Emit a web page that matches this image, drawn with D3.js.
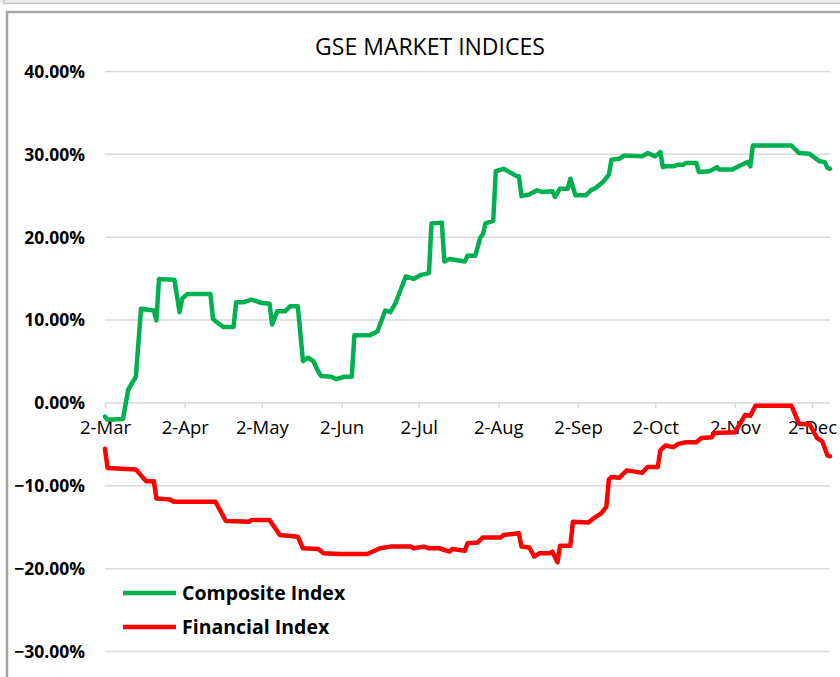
<html>
<head>
    <title>GSE Market Indices</title>
    <meta charset="UTF-8" />
    <script src="https://d3js.org/d3.v7.min.js"></script>
    <style>
        body { margin: 0; background: white; }
        .gridlines line { stroke: #d9d9d9; stroke-width: 1.5; }
        .gridlines .domain { stroke: none; }
        .ylab text { font-family: "Open Sans", sans-serif; font-weight: bold; font-size: 17.5px; fill: #000; }
        .xlab text { font-family: "Open Sans", sans-serif; font-size: 18.5px; fill: #000; }
    </style>
</head>
<body>
<svg height="677" width="840" id="svg1"></svg>
<script>

// ---- data (percent change since 2-Mar) ----
const yTicks = [0.40, 0.30, 0.20, 0.10, 0.00, -0.10, -0.20, -0.30];
const xTickDates = ["2021-03-02","2021-04-02","2021-05-02","2021-06-02","2021-07-02",
                    "2021-08-02","2021-09-02","2021-10-02","2021-11-02","2021-12-02"];
const seriesNames = ["Composite Index", "Financial Index"];

const compositeDates = ["2021-03-02","2021-03-03","2021-03-09","2021-03-11","2021-03-14","2021-03-16","2021-03-21","2021-03-22",
  "2021-03-23","2021-03-29","2021-03-31","2021-04-01","2021-04-03","2021-04-12","2021-04-13","2021-04-14","2021-04-17",
  "2021-04-21","2021-04-22","2021-04-25","2021-04-28","2021-05-02","2021-05-05","2021-05-06","2021-05-08","2021-05-11",
  "2021-05-13","2021-05-16","2021-05-18","2021-05-20","2021-05-22","2021-05-24","2021-05-25","2021-05-29","2021-05-31",
  "2021-06-03","2021-06-06","2021-06-07","2021-06-13","2021-06-16","2021-06-19","2021-06-21","2021-06-23","2021-06-27",
  "2021-06-30","2021-07-03","2021-07-06","2021-07-07","2021-07-11","2021-07-12","2021-07-14","2021-07-20","2021-07-21",
  "2021-07-24","2021-07-26","2021-07-27","2021-07-28","2021-07-31","2021-08-01","2021-08-04","2021-08-07","2021-08-09",
  "2021-08-10","2021-08-11","2021-08-14","2021-08-17","2021-08-19","2021-08-23","2021-08-24","2021-08-26","2021-08-29",
  "2021-08-30","2021-09-01","2021-09-05","2021-09-07","2021-09-09","2021-09-12","2021-09-14","2021-09-15","2021-09-18",
  "2021-09-20","2021-09-27","2021-09-29","2021-10-02","2021-10-04","2021-10-05","2021-10-06","2021-10-09","2021-10-11",
  "2021-10-13","2021-10-14","2021-10-18","2021-10-19","2021-10-23","2021-10-25","2021-10-26","2021-10-27","2021-11-01",
  "2021-11-04","2021-11-07","2021-11-08","2021-11-09","2021-11-24","2021-11-27","2021-12-01","2021-12-05","2021-12-07",
  "2021-12-08","2021-12-09"];
const compositeValues = [-1.7,-2.1,-2.0,1.5,3.1,11.3,11.1,9.9,
  14.9,14.8,10.9,12.5,13.1,13.1,10.1,9.8,9.1,
  9.1,12.1,12.1,12.4,12.0,11.9,9.4,11.0,11.0,
  11.6,11.6,5.0,5.4,5.0,3.7,3.2,3.1,2.8,
  3.1,3.1,8.1,8.1,8.6,11.1,10.9,12.0,15.2,
  14.9,15.4,15.6,21.6,21.7,17.0,17.3,17.0,17.7,
  17.7,19.9,20.3,21.6,21.9,27.9,28.2,27.7,27.3,
  27.3,24.9,25.1,25.6,25.4,25.5,24.8,25.8,25.8,
  27.0,25.0,25.0,25.6,25.9,26.7,27.5,29.3,29.4,
  29.8,29.7,30.1,29.7,30.2,28.4,28.5,28.5,28.7,
  28.7,28.9,28.9,27.8,27.9,28.2,28.4,28.1,28.1,
  28.6,29.0,28.5,31.0,31.0,30.1,30.0,29.1,29.0,
  28.3,28.2];

const financialDates = ["2021-03-02","2021-03-03","2021-03-14","2021-03-18","2021-03-21","2021-03-22","2021-03-27","2021-03-29",
  "2021-04-14","2021-04-18","2021-04-27","2021-04-28","2021-05-05","2021-05-09","2021-05-16","2021-05-18","2021-05-24",
  "2021-05-26","2021-06-01","2021-06-12","2021-06-17","2021-06-21","2021-06-29","2021-06-30","2021-07-04","2021-07-06",
  "2021-07-10","2021-07-14","2021-07-15","2021-07-20","2021-07-21","2021-07-25","2021-07-27","2021-08-03","2021-08-04",
  "2021-08-10","2021-08-11","2021-08-14","2021-08-16","2021-08-18","2021-08-22","2021-08-23","2021-08-25","2021-08-26",
  "2021-08-30","2021-08-31","2021-09-06","2021-09-08","2021-09-11","2021-09-13","2021-09-14","2021-09-15","2021-09-18",
  "2021-09-21","2021-09-27","2021-09-29","2021-10-03","2021-10-04","2021-10-06","2021-10-09","2021-10-11","2021-10-14",
  "2021-10-18","2021-10-20","2021-10-24","2021-10-25","2021-11-02","2021-11-06","2021-11-08","2021-11-10","2021-11-24",
  "2021-11-27","2021-12-01","2021-12-04","2021-12-06","2021-12-08","2021-12-09"];
const financialValues = [-5.6,-7.9,-8.1,-9.5,-9.5,-11.6,-11.7,-12.0,
  -12.0,-14.3,-14.4,-14.2,-14.2,-16.0,-16.2,-17.6,-17.7,
  -18.2,-18.3,-18.3,-17.6,-17.4,-17.4,-17.6,-17.4,-17.6,
  -17.6,-18.0,-17.7,-17.9,-17.0,-16.9,-16.3,-16.3,-16.0,
  -15.8,-17.4,-17.5,-18.6,-18.2,-18.2,-18.0,-19.3,-17.3,
  -17.3,-14.4,-14.5,-14.0,-13.4,-12.6,-9.3,-9.0,-9.1,
  -8.2,-8.5,-7.8,-7.8,-5.8,-5.2,-5.4,-5.0,-4.8,
  -4.8,-4.3,-4.2,-3.7,-3.6,-1.5,-1.6,-0.4,-0.4,
  -2.6,-2.6,-4.3,-4.7,-6.4,-6.5];

// ---- setup ----
const svg1 = d3.select("svg#svg1");
const parseDate = d3.timeParse("%Y-%m-%d");
const colors = ["#00b050", "#ff0000"];

// outer frames (spreadsheet chart box)
svg1.append("rect").attr("x", 0).attr("y", -2).attr("width", 840).attr("height", 5.5)
    .style("fill", "#ededed");
svg1.append("path").attr("d", "M4,0 V3.5 H840")
    .style("fill", "none").style("stroke", "#c4c4c4").style("stroke-width", 1.5);
svg1.append("path").attr("d", "M7,690 V12 H842")
    .style("fill", "none").style("stroke", "#a6a6a6").style("stroke-width", 2.5);

// scales
const xScale = d3.scaleTime()
    .domain([parseDate(compositeDates[0]), parseDate(compositeDates[compositeDates.length - 1])])
    .range([105, 830]);
const yScale = d3.scaleLinear().domain([-0.30, 0.40]).range([651, 71]);

// gridlines
const leftGridlines = d3.axisLeft(yScale).tickValues(yTicks).tickSize(-(830 - 105)).tickFormat("");
svg1.append("g").attr("class", "gridlines")
    .attr("transform", "translate(105,0)")
    .call(leftGridlines);

// y labels
const leftAxis = d3.axisLeft(yScale).tickValues(yTicks).tickSize(0).tickPadding(0)
    .tickFormat(d3.format(".2%"));
const yAx = svg1.append("g").attr("class", "ylab")
    .attr("transform", "translate(85,0)")
    .call(leftAxis);
yAx.select(".domain").remove();
yAx.selectAll("text").attr("dy", "0.36em");

// x axis on the zero line
const bottomAxis = d3.axisBottom(xScale)
    .tickValues(xTickDates.map(parseDate))
    .tickSize(6).tickPadding(12)
    .tickFormat(d3.timeFormat("%-d-%b"));
const xAx = svg1.append("g").attr("class", "xlab")
    .attr("transform", "translate(0," + yScale(0) + ")")
    .call(bottomAxis);
xAx.select(".domain").remove();
xAx.selectAll("line").style("stroke", "#d9d9d9").style("stroke-width", 1.5);

// title
svg1.append("text").attr("x", 430).attr("y", 55)
    .attr("text-anchor", "middle")
    .style("font-family", "Open Sans, sans-serif").style("font-size", "23px")
    .text("GSE MARKET INDICES");

// lines
const series = [
    {name: seriesNames[0], dates: compositeDates, values: compositeValues},
    {name: seriesNames[1], dates: financialDates, values: financialValues}
];
const lineGen = d3.line()
    .x(d => xScale(d.date))
    .y(d => yScale(d.value / 100));

svg1.append("g").attr("id", "lines").selectAll("path")
    .data(series)
    .join("path")
    .attr("d", s => lineGen(s.dates.map((t, i) => ({date: parseDate(t), value: s.values[i]}))))
    .style("fill", "none")
    .style("stroke", (s, i) => colors[i])
    .style("stroke-width", 4.5)
    .style("stroke-linejoin", "round")
    .style("stroke-linecap", "round");

// legend
const legend = svg1.append("g").attr("id", "legend").selectAll("g")
    .data(seriesNames)
    .join("g")
    .attr("transform", (d, i) => "translate(123," + (593 + i * 34) + ")");
legend.append("line").attr("x1", 0).attr("x2", 53)
    .style("stroke", (d, i) => colors[i]).style("stroke-width", 4.5);
legend.append("text").attr("x", 59).attr("dy", "0.36em")
    .style("font-family", "Open Sans, sans-serif").style("font-weight", "bold").style("font-size", "19.5px")
    .text(d => d);

</script>
</body>
</html>
